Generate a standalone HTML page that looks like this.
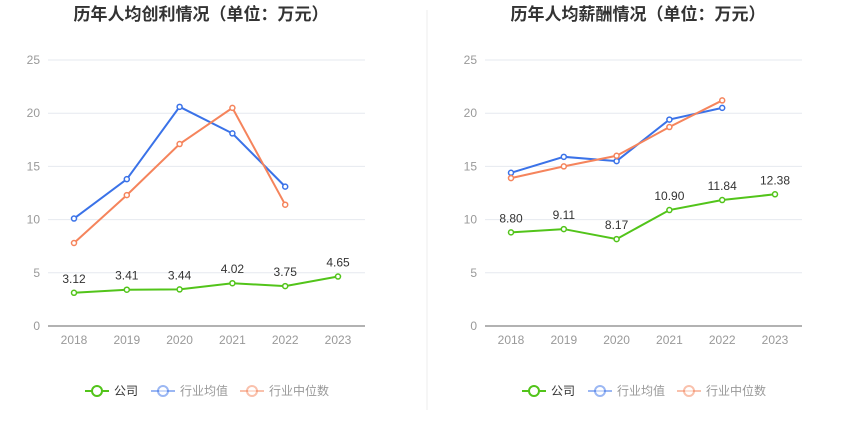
<!DOCTYPE html>
<html><head><meta charset="utf-8"><style>
body{margin:0;background:#fff;font-family:"Liberation Sans","Noto Sans CJK SC",sans-serif;}
svg text{font-family:"Liberation Sans","Noto Sans CJK SC",sans-serif;}
</style></head><body>
<svg id="c" width="850" height="437">
<line x1="427" y1="10" x2="427" y2="410" stroke="#eee"/>
</svg>
<script>
const years=["2018","2019","2020","2021","2022","2023"];
const ticks=[0,5,10,15,20,25];
const profitCompany=[3.12,3.41,3.44,4.02,3.75,4.65];
const profitAvg=[10.1,13.8,20.6,18.1,13.1];
const profitMedian=[7.8,12.3,17.1,20.5,11.4];
const salaryCompany=[8.80,9.11,8.17,10.90,11.84,12.38];
const salaryAvg=[14.4,15.9,15.5,19.4,20.5];
const salaryMedian=[13.9,15.0,16.0,18.7,21.2];
const svg=document.getElementById('c');
const NS="http://www.w3.org/2000/svg";
function mk(t,a,txt){const e=document.createElementNS(NS,t);for(const k in a)e.setAttribute(k,a[k]);if(txt!=null)e.textContent=txt;svg.appendChild(e);return e;}
const G="#52c41a",B="#3a72e8",O="#f5845c";
function chart(x0,title,comp,avg,med,pre){
  const left=x0+48,right=x0+365,y=v=>326-v*10.64,x=i=>x0+74+i*52.8;
  let e=mk('text',{x:x0+201,y:20,'text-anchor':'middle','font-size':17,'font-weight':'bold',fill:'#333'},title);
  
  ticks.forEach(t=>{
    e=mk('line',{x1:left,x2:right,y1:y(t),y2:y(t),stroke:t?'#e6e9ef':'#666'});
    
    e=mk('text',{x:x0+40,y:y(t)+4,'text-anchor':'end','font-size':12,fill:'#999'},t);
    
  });
  years.forEach((yr,i)=>{
    e=mk('text',{x:x(i),y:344,'text-anchor':'middle','font-size':12,fill:'#999'},yr);
    
  });
  [[avg,B,'avg'],[med,O,'median'],[comp,G,'company']].forEach(([d,c,n])=>{
    e=mk('polyline',{points:d.map((v,i)=>x(i)+','+y(v)).join(' '),fill:'none',stroke:c,'stroke-width':2});
    
    d.forEach((v,i)=>{
      e=mk('circle',{cx:x(i),cy:y(v),r:2.5,fill:'#fff',stroke:c,'stroke-width':1.5});
      
      if(n==='company'){
        e=mk('text',{x:x(i),y:y(v)-10,'text-anchor':'middle','font-size':12,fill:'#333'},v.toFixed(2));
        
      }
    });
  });
  [['公司',G,x0+85],['行业均值',B,x0+151],['行业中位数',O,x0+240]].forEach(([l,c,lx])=>{
    e=mk('line',{x1:lx,x2:lx+24,y1:391,y2:391,stroke:c,'stroke-width':2,opacity:l==='公司'?1:0.5});
    
    e=mk('circle',{cx:lx+12,cy:391,r:5,fill:'#fff',stroke:c,'stroke-width':2,opacity:l==='公司'?1:0.5});
    
    e=mk('text',{x:lx+29,y:395,'font-size':12,fill:l==='公司'?'#333':'#999'},l);
    
  });
}
chart(0,'历年人均创利情况（单位：万元）',profitCompany,profitAvg,profitMedian,'profit');
chart(437,'历年人均薪酬情况（单位：万元）',salaryCompany,salaryAvg,salaryMedian,'salary');
</script>
</body></html>
